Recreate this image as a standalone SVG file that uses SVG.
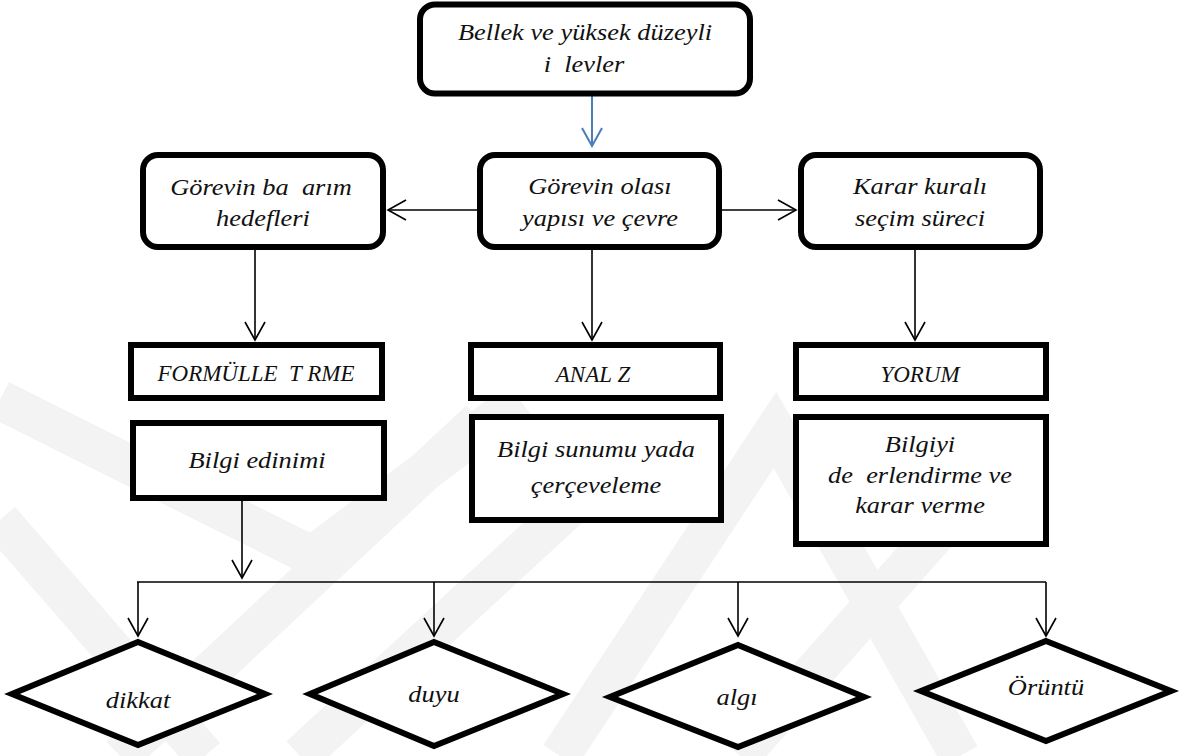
<svg xmlns="http://www.w3.org/2000/svg" width="1195" height="756" viewBox="0 0 1195 756">
  <defs>
    <style>
      .box { fill: #ffffff; stroke: #000000; stroke-width: 6; }
      text { font-family: 'Liberation Serif', 'Times New Roman', Times, serif; font-style: italic; font-size: 24px; fill: #111111; text-anchor: middle; white-space: pre; }
      .cap { font-size: 23px; }
      .edge { fill: none; stroke: #000000; stroke-width: 1.6; }
      .edge-blue { fill: none; stroke: #4a7ebb; stroke-width: 2; }
      .wm { fill: none; stroke: #f3f3f3; stroke-width: 40; stroke-linejoin: miter; }
    </style>
    <marker id="arrow" viewBox="-20 -12 22 24" markerWidth="22" markerHeight="24" refX="0" refY="0" orient="auto" markerUnits="userSpaceOnUse">
      <path d="M-18,-10 L0,0 L-18,10" fill="none" stroke="#000000" stroke-width="1.6"/>
    </marker>
    <marker id="arrow-blue" viewBox="-20 -12 22 24" markerWidth="22" markerHeight="24" refX="0" refY="0" orient="auto" markerUnits="userSpaceOnUse">
      <path d="M-18,-10 L0,0 L-18,10" fill="none" stroke="#4a7ebb" stroke-width="2"/>
    </marker>
  </defs>

  <rect width="1195" height="756" fill="#ffffff"/>

  <!-- faint background emblem -->
  <g id="emblem">
    <polyline class="wm" points="0,400 312,556 520,400"/>
    <line class="wm" x1="0" y1="520" x2="205" y2="756"/>
    <line class="wm" x1="120" y1="756" x2="480" y2="420"/>
    <line class="wm" x1="300" y1="756" x2="610" y2="470"/>
    <polyline class="wm" points="560,756 775,430 960,756"/>
    <line class="wm" x1="740" y1="756" x2="1010" y2="450"/>
  </g>

  <!-- connectors -->
  <g id="connectors">
    <line class="edge-blue" x1="592" y1="96" x2="592" y2="146" marker-end="url(#arrow-blue)"/>
    <line class="edge" x1="477" y1="210" x2="388" y2="210" marker-end="url(#arrow)"/>
    <line class="edge" x1="722" y1="210" x2="796" y2="210" marker-end="url(#arrow)"/>
    <line class="edge" x1="255" y1="250" x2="255" y2="340" marker-end="url(#arrow)"/>
    <line class="edge" x1="592" y1="250" x2="592" y2="340" marker-end="url(#arrow)"/>
    <line class="edge" x1="915" y1="250" x2="915" y2="340" marker-end="url(#arrow)"/>
    <line class="edge" x1="242" y1="501" x2="242" y2="578" marker-end="url(#arrow)"/>
    <line class="edge" x1="137" y1="582" x2="1046" y2="582"/>
    <line class="edge" x1="138" y1="582" x2="138" y2="636" marker-end="url(#arrow)"/>
    <line class="edge" x1="434" y1="582" x2="434" y2="636" marker-end="url(#arrow)"/>
    <line class="edge" x1="738" y1="582" x2="738" y2="636" marker-end="url(#arrow)"/>
    <line class="edge" x1="1046" y1="582" x2="1046" y2="636" marker-end="url(#arrow)"/>
  </g>

  <g id="node-bellek">
    <rect class="box" x="420" y="4.5" width="330" height="89" rx="15"/>
    <text transform="translate(585 40) scale(1.1 1)">Bellek ve yüksek düzeyli</text>
    <text xml:space="preserve" transform="translate(584 72) scale(1.1 1)">i  levler</text>
  </g>

  <g id="node-hedefler">
    <rect class="box" x="143" y="155" width="240" height="92" rx="15"/>
    <text xml:space="preserve" transform="translate(261 195) scale(1.1 1)">Görevin ba  arım</text>
    <text transform="translate(263 226) scale(1.1 1)">hedefleri</text>
  </g>

  <g id="node-yapi">
    <rect class="box" x="480" y="155" width="239" height="92" rx="15"/>
    <text transform="translate(600 194) scale(1.1 1)">Görevin olası</text>
    <text transform="translate(600 226) scale(1.1 1)">yapısı ve çevre</text>
  </g>

  <g id="node-karar">
    <rect class="box" x="801" y="155" width="239" height="92" rx="15"/>
    <text transform="translate(920 194) scale(1.1 1)">Karar kuralı</text>
    <text transform="translate(920 226) scale(1.1 1)">seçim süreci</text>
  </g>

  <g id="node-formullestirme">
    <rect class="box" x="131" y="345" width="251" height="53"/>
    <text class="cap" xml:space="preserve" x="256" y="381">FORMÜLLE  T RME</text>
  </g>

  <g id="node-analiz">
    <rect class="box" x="471" y="345" width="249" height="53"/>
    <text class="cap" x="593" y="382">ANAL Z</text>
  </g>

  <g id="node-yorum">
    <rect class="box" x="796" y="345" width="250" height="53"/>
    <text class="cap" x="920" y="382">YORUM</text>
  </g>

  <g id="node-edinim">
    <rect class="box" x="133" y="423" width="251" height="75"/>
    <text transform="translate(257 468) scale(1.1 1)">Bilgi edinimi</text>
  </g>

  <g id="node-sunum">
    <rect class="box" x="472" y="417" width="249" height="103"/>
    <text transform="translate(596 457) scale(1.1 1)">Bilgi sunumu yada</text>
    <text transform="translate(596 493) scale(1.1 1)">çerçeveleme</text>
  </g>

  <g id="node-degerlendirme">
    <rect class="box" x="796" y="417" width="250" height="127"/>
    <text transform="translate(920 452) scale(1.1 1)">Bilgiyi</text>
    <text xml:space="preserve" transform="translate(920 483) scale(1.1 1)">de  erlendirme ve</text>
    <text transform="translate(920 513) scale(1.1 1)">karar verme</text>
  </g>

  <g id="node-dikkat">
    <polygon class="box" points="138,642 265,694 138,745 12,694"/>
    <text transform="translate(138 708) scale(1.1 1)">dikkat</text>
  </g>

  <g id="node-duyu">
    <polygon class="box" points="434,642 563,694 434,746 310,694"/>
    <text transform="translate(434 702) scale(1.1 1)">duyu</text>
  </g>

  <g id="node-algi">
    <polygon class="box" points="738,645 864,697 738,747 610,697"/>
    <text transform="translate(737 705) scale(1.1 1)">algı</text>
  </g>

  <g id="node-oruntu">
    <polygon class="box" points="1046,641 1171,691 1046,741 921,691"/>
    <text transform="translate(1046 695) scale(1.1 1)">Örüntü</text>
  </g>
</svg>
